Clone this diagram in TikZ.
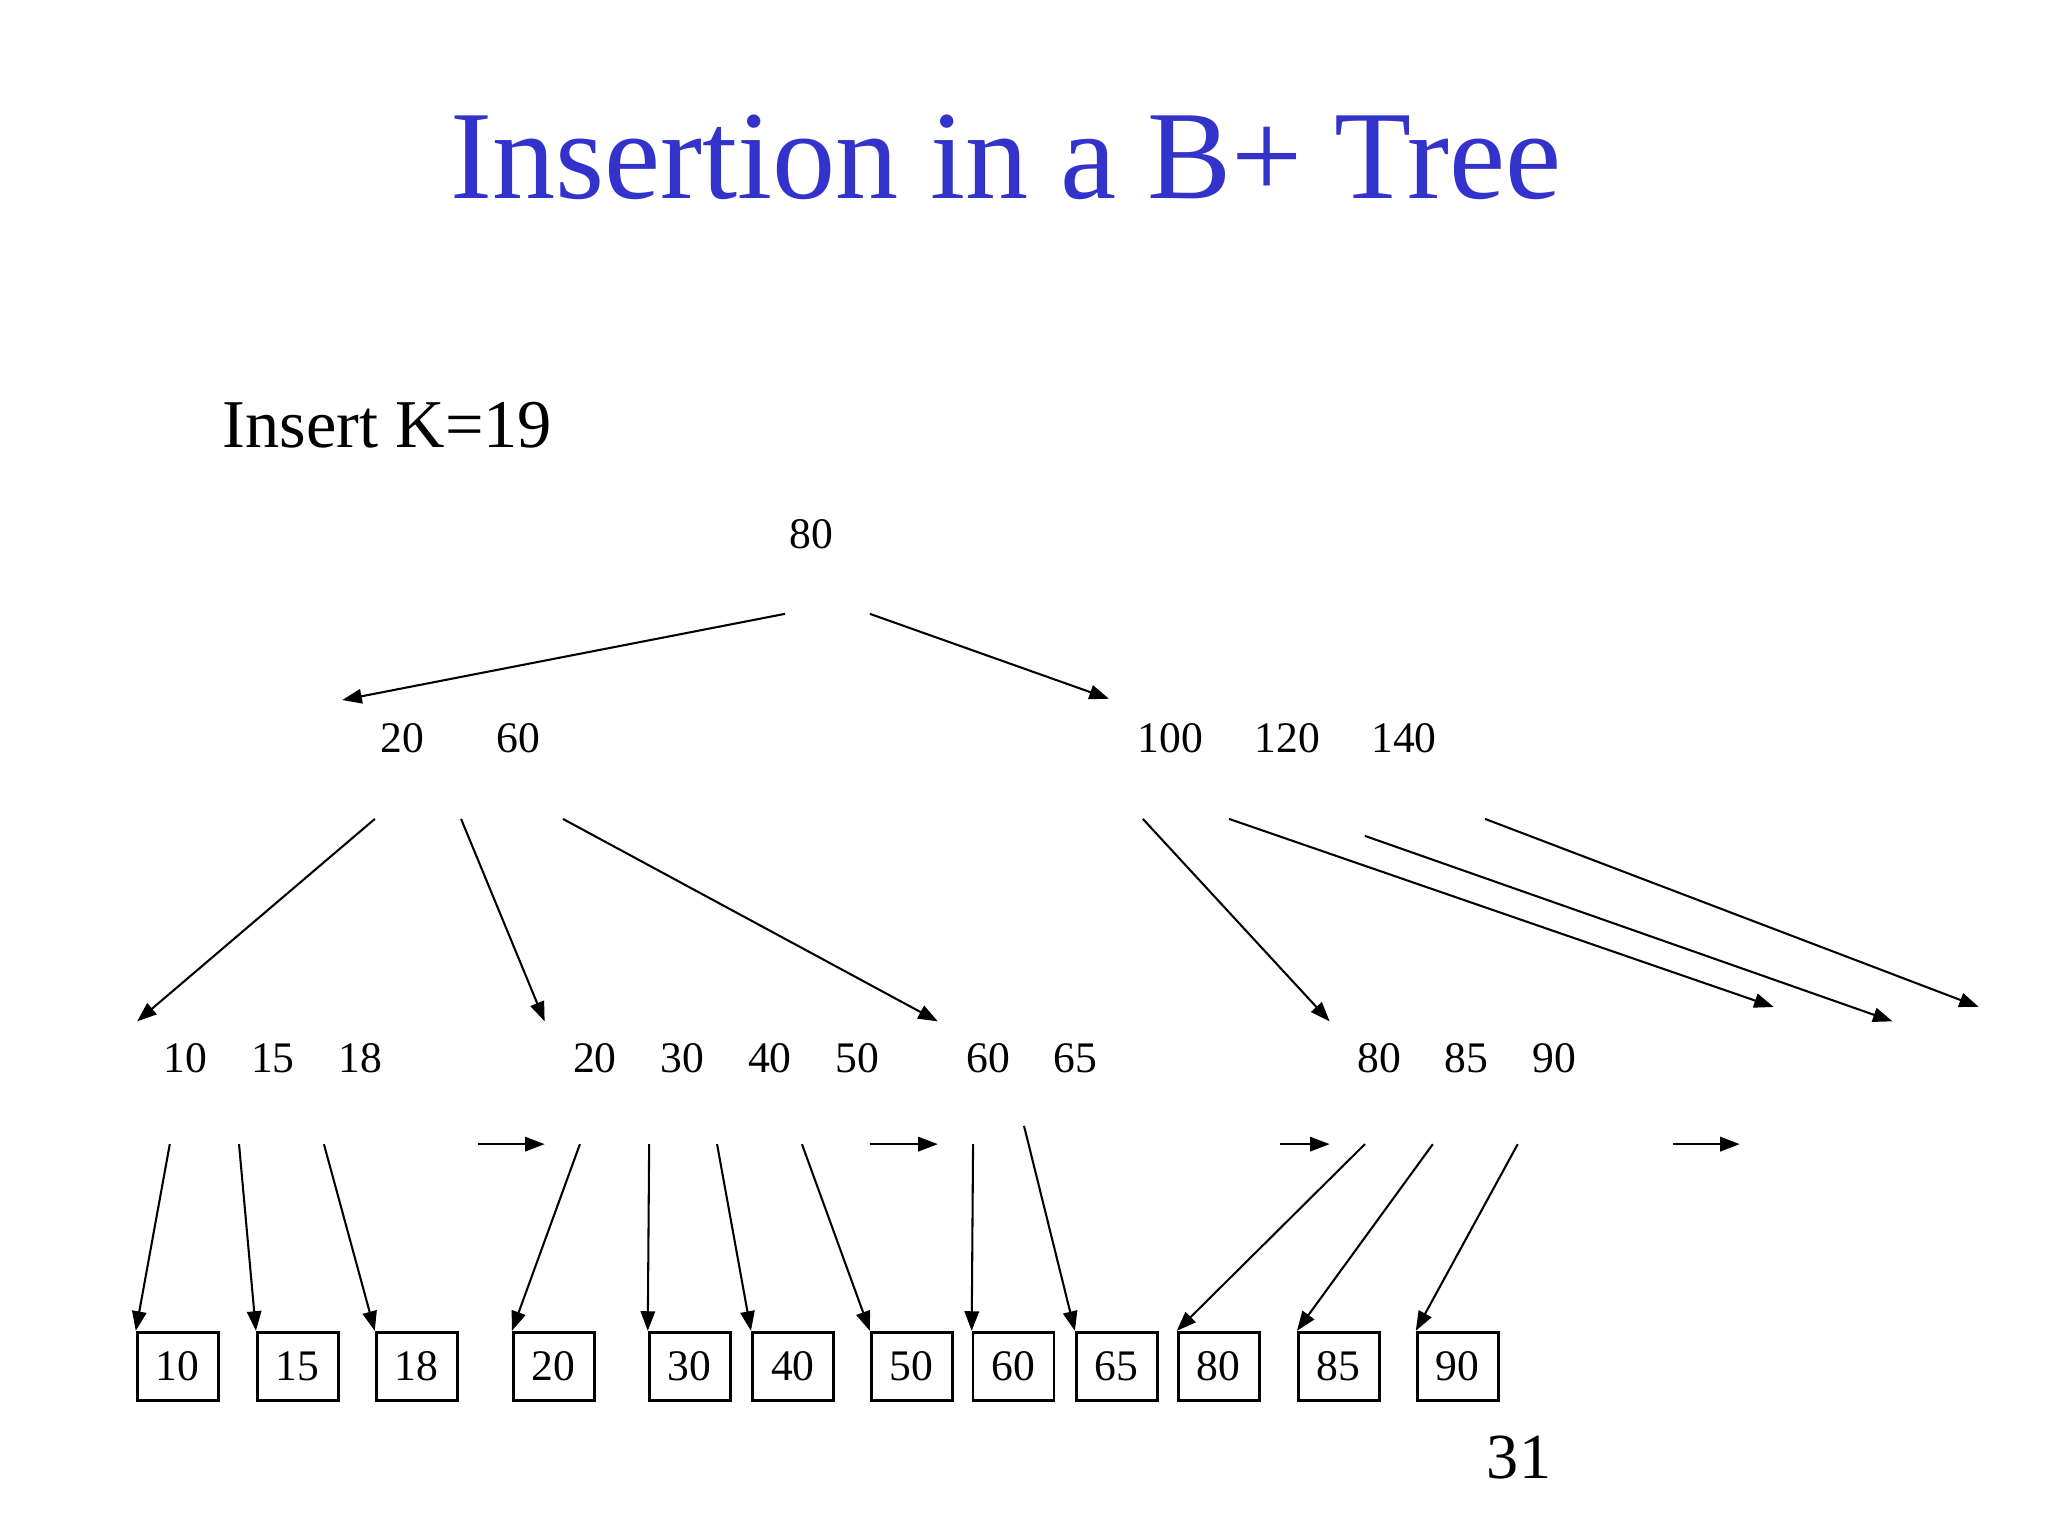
\documentclass[tikz,border=0pt]{standalone}
\usepackage{fontspec}
\setmainfont{Liberation Serif}
\usetikzlibrary{arrows.meta}
\definecolor{titleblue}{RGB}{51,51,204}
\tikzset{
	key/.style={font=\fontsize{9.5}{11}\selectfont,inner sep=0pt,anchor=base},
	leaf/.style={draw,line width=0.6pt,minimum width=0.62cm,minimum height=0.52cm,inner sep=0pt,font=\fontsize{9.5}{11}\selectfont},
	ptr/.style={-{Triangle[length=0.15cm,width=0.11cm]},line width=0.45pt}
}
\begin{document}
\begin{tikzpicture}
	\useasboundingbox (0,0) rectangle (15.68,11.76);
	\node[anchor=base,inner sep=0pt,text=titleblue,font=\fontsize{27.5}{33}\selectfont] (title) at (7.70,10.24) {Insertion in a B+ Tree};
	\node[anchor=base west,inner sep=0pt,font=\fontsize{14.9}{18}\selectfont] (task) at (1.70,8.33) {Insert K=19};
	\node[anchor=base,inner sep=0pt,font=\fontsize{14}{17}\selectfont] (pagenum) at (11.63,0.44) {31};
	\node[key] (root) at (6.21,7.56) {80};
	\node[key] (nleft) at (3.525,6.00) {20\hspace{0.556cm}60};
	\node[key] (nright) at (9.855,6.00) {100\hspace{0.394cm}120\hspace{0.394cm}140};
	\node[key] (na) at (2.09,3.55) {10\hspace{0.336cm}15\hspace{0.336cm}18};
	\node[key] (nb) at (5.56,3.55) {20\hspace{0.336cm}30\hspace{0.336cm}40\hspace{0.336cm}50};
	\node[key] (nc) at (7.90,3.55) {60\hspace{0.336cm}65};
	\node[key] (nd) at (11.23,3.55) {80\hspace{0.336cm}85\hspace{0.336cm}90};
	\foreach \v/\x in {10/1.36,15/2.28,18/3.19,20/4.24,30/5.28,40/6.07,50/6.98,60/7.76,65/8.55,80/9.33,85/10.25,90/11.16}
		\node[leaf] (l\v) at (\x,1.30) {\v};
	\coordinate (r1) at (6.01,7.06);
	\coordinate (r2) at (6.66,7.06);
	\coordinate (el) at (2.62,6.40);
	\coordinate (er) at (8.49,6.41);
	\coordinate (s1) at (2.87,5.49);
	\coordinate (s2) at (3.53,5.49);
	\coordinate (s3) at (4.31,5.49);
	\coordinate (t1) at (8.75,5.49);
	\coordinate (t2) at (9.41,5.49);
	\coordinate (t3) at (10.45,5.36);
	\coordinate (t4) at (11.37,5.49);
	\coordinate (ea) at (1.05,3.94);
	\coordinate (eb) at (4.17,3.94);
	\coordinate (ec) at (7.18,3.94);
	\coordinate (ed) at (10.18,3.94);
	\coordinate (ee) at (13.58,4.05);
	\coordinate (ef) at (14.49,3.94);
	\coordinate (eg) at (15.15,4.05);
	\draw[ptr] (r1)--(el);
	\draw[ptr] (r2)--(er);
	\draw[ptr] (s1)--(ea);
	\draw[ptr] (s2)--(eb);
	\draw[ptr] (s3)--(ec);
	\draw[ptr] (t1)--(ed);
	\draw[ptr] (t2)--(ee);
	\draw[ptr] (t3)--(ef);
	\draw[ptr] (t4)--(eg);
	\foreach \v/\x/\y in {10/1.30/3.00,15/1.83/3.00,18/2.48/3.00,20/4.44/3.00,30/4.97/3.00,40/5.49/3.00,50/6.14/3.00,60/7.45/3.00,65/7.84/3.14,80/10.45/3.00,85/10.97/3.00,90/11.62/3.00}
		\coordinate (q\v) at (\x,\y);
	\foreach \v in {10,15,18,20,30,40,50,60,65,80,85,90}
		\draw[ptr] (q\v)--(l\v.north west);
	\foreach \i/\x/\len in {1/3.66/0.51,2/6.66/0.52,3/9.80/0.38,4/12.81/0.51}{
		\coordinate (h\i) at (\x,3.00);
		\coordinate (k\i) at (\x+\len,3.00);
		\draw[ptr] (h\i)--(k\i);
	}
\end{tikzpicture}
\end{document}
